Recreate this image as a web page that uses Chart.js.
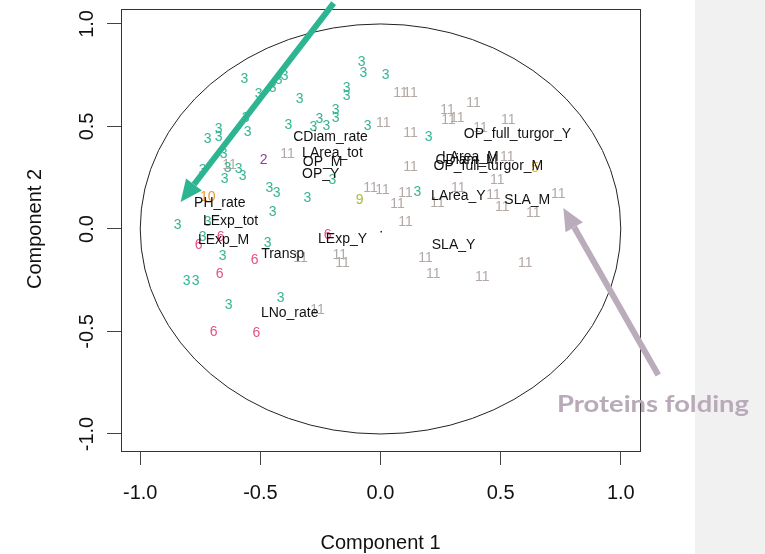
<!DOCTYPE html>
<html>
<head>
<meta charset="utf-8">
<script src="https://cdn.jsdelivr.net/npm/chart.js@4.4.1/dist/chart.umd.min.js"></script>
<style>
html, body { margin: 0; padding: 0; background: #fff; }
#wrap { position: relative; width: 765px; height: 554px; overflow: hidden; }
#side { position: absolute; left: 695px; top: 0; width: 70px; height: 554px; background: #f1f1f1; }
canvas { position: absolute; left: 0; top: 0; }
</style>
</head>
<body>
<div id="wrap"><div id="side"></div><canvas id="chart" width="765" height="554"></canvas></div>
<script>
// axis ticks
const xTicks = [-1, -0.5, 0, 0.5, 1];
const yTicks = [-1, -0.5, 0, 0.5, 1];

// observations, labelled by their cluster number
const cluster3 = [
  [-0.079, 0.815], [-0.071, 0.761], [-0.566, 0.732], [-0.507, 0.659], [-0.449, 0.688],
  [-0.424, 0.727], [-0.399, 0.746], [-0.337, 0.634], [-0.141, 0.688], [-0.141, 0.649],
  [-0.187, 0.580], [-0.187, 0.541], [-0.383, 0.507], [-0.254, 0.537], [-0.279, 0.498],
  [-0.225, 0.502], [-0.054, 0.502], [-0.674, 0.488], [-0.674, 0.449], [-0.719, 0.439],
  [-0.561, 0.541], [-0.553, 0.473], [-0.653, 0.366], [-0.636, 0.298], [-0.590, 0.293],
  [-0.649, 0.244], [-0.574, 0.259], [-0.740, 0.288], [-0.462, 0.200], [-0.432, 0.176],
  [-0.304, 0.151], [-0.200, 0.239], [-0.449, 0.083], [-0.844, 0.020], [-0.719, 0.034],
  [-0.740, -0.039], [-0.657, -0.132], [-0.470, -0.068], [-0.807, -0.254], [-0.769, -0.254],
  [-0.632, -0.371], [-0.416, -0.337], [0.021, 0.751], [0.200, 0.449], [0.154, 0.180]
];
const cluster11 = [
  [0.083, 0.663], [0.125, 0.663], [0.387, 0.615], [0.279, 0.580], [0.283, 0.532],
  [0.320, 0.541], [0.532, 0.532], [0.012, 0.517], [0.125, 0.468], [0.416, 0.493],
  [-0.387, 0.366], [-0.628, 0.312], [0.125, 0.302], [0.528, 0.351], [0.486, 0.239],
  [-0.042, 0.200], [0.008, 0.190], [0.104, 0.176], [0.071, 0.122], [0.237, 0.127],
  [0.324, 0.200], [0.470, 0.166], [0.507, 0.107], [0.636, 0.078], [0.740, 0.171],
  [0.104, 0.034], [0.187, -0.141], [0.220, -0.220], [0.424, -0.234], [0.603, -0.166],
  [-0.170, -0.127], [-0.158, -0.166], [-0.262, -0.395], [-0.333, -0.141]
];
const cluster6 = [
  [-0.757, -0.078], [-0.665, -0.039], [-0.524, -0.151], [-0.669, -0.220],
  [-0.694, -0.502], [-0.516, -0.507], [-0.220, -0.029]
];
const cluster9 = [[-0.087, 0.141]];
const cluster2 = [[-0.486, 0.337]];
const cluster10 = [[-0.719, 0.156]];
const cluster5 = [[0.644, 0.298]];

// variable labels (loadings)
const varNames = ['CDiam_rate', 'LArea_tot', 'OP_M', 'OP_Y', 'PH_rate', 'LExp_tot', 'LExp_M',
  'Transp', 'LExp_Y', 'LNo_rate', 'OP_full_turgor_Y', 'LArea_M', 'CDiam_M',
  'OP_full_turgor_M', 'LArea_Y', 'SLA_M', 'SLA_Y'];
const varX = [-0.208, -0.200, -0.241, -0.249, -0.669, -0.624, -0.653,
  -0.407, -0.158, -0.378, 0.570, 0.374, 0.358,
  0.449, 0.324, 0.611, 0.304];
const varY = [0.449, 0.371, 0.327, 0.268, 0.127, 0.039, -0.054,
  -0.122, -0.049, -0.410, 0.463, 0.351, 0.337,
  0.307, 0.161, 0.141, -0.078];

// annotation arrows (from, to) in component units
const greenArrow = [[-0.195, 1.102], [-0.832, 0.132]];
const greyArrow = [[1.156, -0.712], [0.761, 0.102]];

const groups = [
  { label: '11', color: '#b2a9a4', pts: cluster11 },
  { label: '3', color: '#34b594', pts: cluster3 },
  { label: '6', color: '#e4527e', pts: cluster6 },
  { label: '9', color: '#a6be3c', pts: cluster9 },
  { label: '2', color: '#8e3f9c', pts: cluster2 },
  { label: '10', color: '#e89a3a', pts: cluster10 },
  { label: '5', color: '#e9b23a', pts: cluster5 }
];

const datasets = groups.map(function (g) {
  return {
    label: g.label,
    textColor: g.color,
    data: g.pts.map(function (p) { return { x: p[0], y: p[1] }; }),
    pointRadius: 0
  };
});
datasets.push({
  label: 'variables',
  names: varNames,
  textColor: '#111',
  data: varX.map(function (v, i) { return { x: v, y: varY[i] }; }),
  pointRadius: 0
});

function drawArrow(ctx, x0, y0, x1, y1, color, width, headLen, headW) {
  const a = Math.atan2(y1 - y0, x1 - x0);
  const bx = x1 - Math.cos(a) * headLen, by = y1 - Math.sin(a) * headLen;
  ctx.save();
  ctx.strokeStyle = color;
  ctx.fillStyle = color;
  ctx.lineWidth = width;
  ctx.beginPath();
  ctx.moveTo(x0, y0);
  ctx.lineTo(bx, by);
  ctx.stroke();
  ctx.beginPath();
  ctx.moveTo(x1, y1);
  ctx.lineTo(bx + Math.sin(a) * headW, by - Math.cos(a) * headW);
  ctx.lineTo(bx - Math.sin(a) * headW, by + Math.cos(a) * headW);
  ctx.closePath();
  ctx.fill();
  ctx.restore();
}

const overlay = {
  id: 'overlay',
  beforeDatasetsDraw(chart) {
    const ctx = chart.ctx, a = chart.chartArea;
    const sx = chart.scales.x, sy = chart.scales.y;
    ctx.save();
    ctx.strokeStyle = '#333';
    ctx.lineWidth = 1;
    ctx.strokeRect(a.left + 0.5, a.top + 0.5, a.right - a.left, a.bottom - a.top);
    // unit circle
    const cx = sx.getPixelForValue(0), cy = sy.getPixelForValue(0);
    ctx.strokeStyle = '#222';
    ctx.beginPath();
    ctx.ellipse(cx, cy, sx.getPixelForValue(1) - cx, cy - sy.getPixelForValue(1), 0, 0, Math.PI * 2);
    ctx.stroke();
    // centre dot
    ctx.fillStyle = '#222';
    ctx.fillRect(cx, cy + 2, 1.5, 1.5);
    ctx.restore();
  },
  afterDatasetsDraw(chart) {
    const ctx = chart.ctx;
    const sx = chart.scales.x, sy = chart.scales.y;
    ctx.save();
    ctx.textAlign = 'center';
    ctx.textBaseline = 'middle';
    chart.data.datasets.forEach(function (ds, i) {
      const meta = chart.getDatasetMeta(i);
      ctx.fillStyle = ds.textColor;
      ctx.font = '14px "Liberation Sans", Arial, sans-serif';
      meta.data.forEach(function (el, j) {
        ctx.fillText(ds.names ? ds.names[j] : ds.label, el.x, el.y);
      });
    });

    // axis labels
    ctx.fillStyle = '#111';
    ctx.font = '20px "Liberation Sans", Arial, sans-serif';
    xTicks.forEach(function (v) {
      ctx.fillText(v.toFixed(1), sx.getPixelForValue(v), 493);
    });
    yTicks.forEach(function (v) {
      ctx.save();
      ctx.translate(87, sy.getPixelForValue(v));
      ctx.rotate(-Math.PI / 2);
      ctx.fillText(v.toFixed(1), 0, 0);
      ctx.restore();
    });
    ctx.fillText('Component 1', sx.getPixelForValue(0), 543);
    ctx.save();
    ctx.translate(35, sy.getPixelForValue(0));
    ctx.rotate(-Math.PI / 2);
    ctx.fillText('Component 2', 0, 0);
    ctx.restore();

    // arrows
    drawArrow(ctx, sx.getPixelForValue(greenArrow[0][0]), sy.getPixelForValue(greenArrow[0][1]),
      sx.getPixelForValue(greenArrow[1][0]), sy.getPixelForValue(greenArrow[1][1]), '#2db592', 6, 22, 10);
    drawArrow(ctx, sx.getPixelForValue(greyArrow[0][0]), sy.getPixelForValue(greyArrow[0][1]),
      sx.getPixelForValue(greyArrow[1][0]), sy.getPixelForValue(greyArrow[1][1]), '#baacbb', 6, 22, 10);

    // annotation text
    ctx.font = 'bold 23px Lato, "Open Sans", sans-serif';
    ctx.textAlign = 'left';
    ctx.textBaseline = 'alphabetic';
    ctx.fillStyle = '#b9aab9';
    const w = ctx.measureText('Proteins folding').width;
    ctx.translate(557, 412);
    ctx.scale(192 / w, 1);
    ctx.fillText('Proteins folding', 0, 0);
    ctx.restore();
  }
};

new Chart(document.getElementById('chart'), {
  type: 'scatter',
  data: { datasets: datasets },
  options: {
    responsive: false,
    animation: false,
    layout: { padding: { top: 9, right: 125, left: 0, bottom: 0 } },
    plugins: { legend: { display: false }, tooltip: { enabled: false } },
    scales: {
      x: {
        type: 'linear', min: -1.08, max: 1.08,
        afterBuildTicks: function (s) { s.ticks = xTicks.map(function (v) { return { value: v }; }); },
        afterFit: function (s) { s.height = 103; },
        ticks: { display: false },
        border: { display: false },
        grid: { drawOnChartArea: false, drawTicks: true, tickLength: 14, color: '#444' }
      },
      y: {
        type: 'linear', min: -1.083, max: 1.073,
        afterBuildTicks: function (s) { s.ticks = yTicks.map(function (v) { return { value: v }; }); },
        afterFit: function (s) { s.width = 121; },
        ticks: { display: false },
        border: { display: false },
        grid: { drawOnChartArea: false, drawTicks: true, tickLength: 14, color: '#444' }
      }
    }
  },
  plugins: [overlay]
});
</script>
</body>
</html>
